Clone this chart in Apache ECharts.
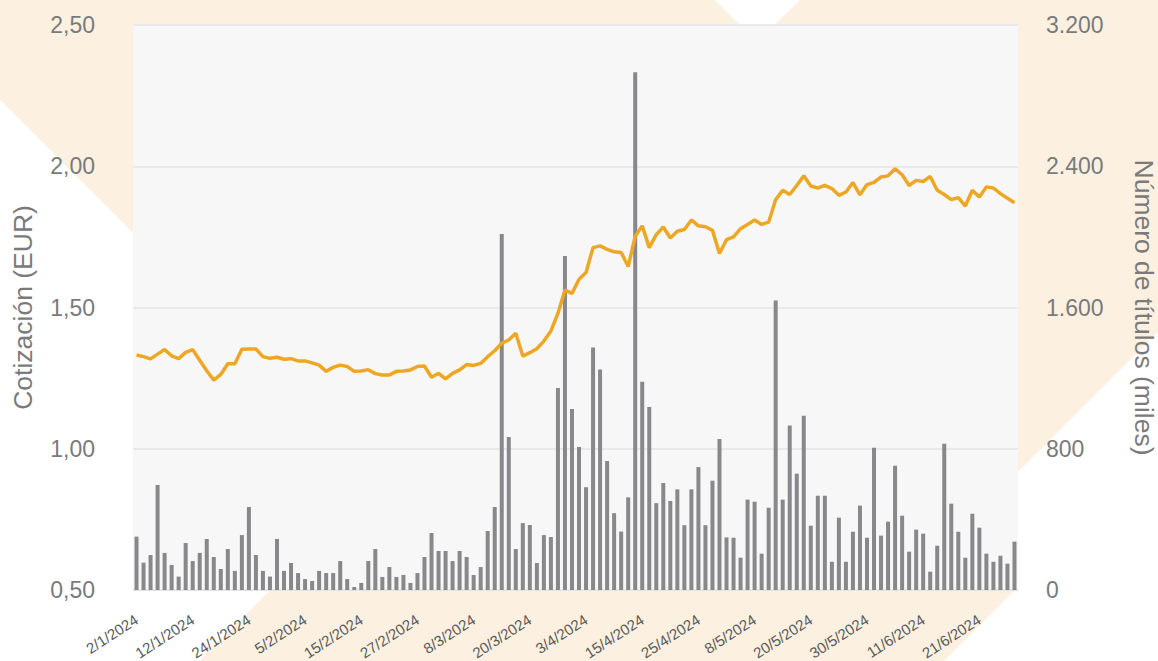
<!DOCTYPE html>
<html>
<head>
<meta charset="utf-8">
<script src="https://cdn.jsdelivr.net/npm/echarts@6/dist/echarts.min.js"></script>
<style>
html,body{margin:0;padding:0;background:#ffffff;}
#chart{width:1158px;height:661px;}
</style>
</head>
<body>
<div id="chart"></div>
<script>
// Trading days (2024)
const jan = [2,3,4,5,8,9,10,11,12,15,16,17,18,19,22,23,24,25,26,29,30,31];
const feb = [1,2,5,6,7,8,9,12,13,14,15,16,19,20,21,22,23,26,27,28,29];
const mar = [1,4,5,6,7,8,11,12,13,14,15,18,19,20,21,22,25,26,27,28];
const apr = [2,3,4,5,8,9,10,11,12,15,16,17,18,19,22,23,24,25,26,29,30];
const may = [2,3,6,7,8,9,10,13,14,15,16,17,20,21,22,23,24,27,28,29,30,31];
const jun = [3,4,5,6,7,10,11,12,13,14,17,18,19,20,21,24,25,26,27,28];
const months = [[1, jan],[2, feb],[3, mar],[4, apr],[5, may],[6, jun]];
const categories = [];
months.forEach(([m, days]) => days.forEach(d => categories.push(d + '/' + m + '/2024')));

// Cotización (EUR)
const price = [
1.332,1.326,1.318,1.335,1.351,1.329,1.319,1.341,1.351,1.313,
1.276,1.243,1.263,1.301,1.301,1.352,1.353,1.353,1.326,1.320,
1.324,1.317,1.319,1.311,1.311,1.304,1.296,1.274,1.288,1.296,
1.291,1.274,1.275,1.280,1.266,1.261,1.261,1.274,1.275,1.279,
1.291,1.293,1.253,1.267,1.247,1.267,1.279,1.298,1.295,1.302,
1.326,1.347,1.374,1.385,1.409,1.328,1.340,1.354,1.381,1.417,
1.479,1.562,1.550,1.600,1.624,1.712,1.718,1.706,1.697,1.695,
1.645,1.752,1.789,1.712,1.758,1.785,1.746,1.770,1.776,1.810,
1.789,1.786,1.773,1.691,1.740,1.750,1.779,1.794,1.810,1.794,
1.802,1.882,1.915,1.900,1.932,1.966,1.930,1.923,1.932,1.921,
1.897,1.909,1.942,1.899,1.935,1.943,1.962,1.966,1.991,1.970,
1.932,1.950,1.946,1.964,1.915,1.900,1.882,1.889,1.859,1.915,
1.891,1.927,1.923,1.903,1.887,1.871
];

// Número de títulos (miles)
const volume = [
302,155,198,595,210,142,76,266,164,210,
289,187,119,232,108,311,470,198,108,76,
289,108,153,96,62,51,108,96,96,164,
62,17,40,164,232,74,130,74,85,40,
96,187,323,221,221,164,221,187,85,130,
334,470,2016,867,232,379,368,153,311,300,
1144,1892,1025,810,582,1374,1249,731,435,331,
525,2932,1180,1037,492,606,504,570,367,570,
696,367,619,855,298,296,183,512,500,206,
466,1639,512,931,659,987,364,534,534,160,
410,160,330,478,296,806,308,387,704,421,
217,342,319,104,251,829,489,330,183,432,
353,206,160,194,149,274
];

const leftTicks = {'0.5':'0,50','1':'1,00','1.5':'1,50','2':'2,00','2.5':'2,50'};
const rightTicks = {'0':'0','800':'800','1600':'1.600','2400':'2.400','3200':'3.200'};

const chart = echarts.init(document.getElementById('chart'), null, {renderer:'svg'});
const beige = '#fcf1e1';
const font = 'Liberation Sans, Arial, sans-serif';

chart.setOption({
  backgroundColor: '#ffffff',
  animation: false,
  graphic: [
    {type:'polygon', z:-10, shape:{points:[[0,0],[715,0],[757,42],[320,420],[0,100]]}, style:{fill:beige}},
    {type:'polygon', z:-10, shape:{points:[[800,0],[1158,0],[1158,332],[1000,490],[757,42]]}, style:{fill:beige}},
    {type:'polygon', z:-10, shape:{points:[[270,590],[1015,590],[944,661],[199,661]]}, style:{fill:beige}}
  ],
  grid: {left:133, right:140, top:25, bottom:71, show:true, backgroundColor:'#f7f7f7', borderWidth:0,
         containLabel:false, outerBoundsMode:'none'},
  xAxis: {
    type:'category', data:categories, boundaryGap:true,
    axisLine:{show:true, lineStyle:{color:'#e2e2e2', width:1}},
    axisTick:{show:false},
    axisLabel:{interval:7, rotate:33, margin:28, fontSize:15, color:'#595959', fontFamily:font}
  },
  yAxis: [
    {
      type:'value', min:0.5, max:2.5, interval:0.5, position:'left',
      name:'Cotización (EUR)', nameLocation:'middle', nameGap:97, nameRotate:90,
      nameTextStyle:{fontSize:26.5, color:'#7a7a7a', fontFamily:font},
      axisLine:{show:false}, axisTick:{show:false},
      axisLabel:{margin:38, fontSize:23, color:'#7a7a7a', fontFamily:font,
        formatter: v => leftTicks[String(Math.round(v*10)/10)] || ''},
      splitLine:{show:true, lineStyle:{color:'#e5e5e5', width:1.5}}
    },
    {
      type:'value', min:0, max:3200, interval:800, position:'right',
      name:'Número de títulos (miles)', nameLocation:'middle', nameGap:112, nameRotate:-90,
      nameTextStyle:{fontSize:26.5, color:'#7a7a7a', fontFamily:font},
      axisLine:{show:false}, axisTick:{show:false},
      axisLabel:{margin:28, fontSize:23, color:'#7a7a7a', fontFamily:font,
        formatter: v => rightTicks[String(Math.round(v))] || ''},
      splitLine:{show:false}
    }
  ],
  series: [
    {
      type:'line', yAxisIndex:0, data:price, symbol:'none', smooth:false,
      lineStyle:{color:'#eda724', width:3.5}, itemStyle:{color:'#eda724'}
    },
    {
      type:'bar', yAxisIndex:1, data:volume, barWidth:4,
      itemStyle:{color:'#88888b'}
    }
  ]
});
</script>
</body>
</html>
